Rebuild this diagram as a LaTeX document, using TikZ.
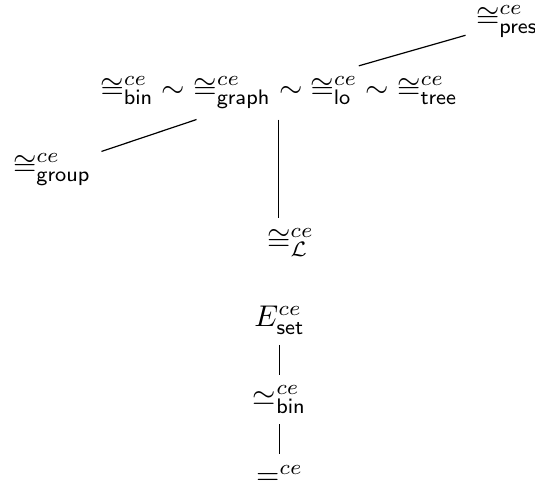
\documentclass[tikz,border=0pt]{standalone}
\usepackage{amsmath,amssymb}
\usepackage{tikz}
\usetikzlibrary{positioning}

\begin{document}
\begin{tikzpicture}[thin,node distance=10pt]
                \tikzset{rel/.style={inner sep=0pt}}
                \useasboundingbox (0,0) rectangle (6.268,5.729);
                \node[anchor=base west] (bin) at (1.054,4.592) {$\cong^{ce}_{\mathsf{bin}}$};
                \node[rel] (simA) [base right=-1pt of bin] {$\sim$};
                \node (graph) [base right=-1pt of simA] {$\cong^{ce}_{\mathsf{graph}}$};
                \node[rel] (simB) [base right=-1pt of graph] {$\sim$};
                \node (lo) [base right=-1pt of simB] {$\cong^{ce}_{\mathsf{lo}}$};
                \node[rel] (simC) [base right=-1pt of lo] {$\sim$};
                \node (tree) [base right=-1pt of simC] {$\cong^{ce}_{\mathsf{tree}}$};
                \node[anchor=base west] (pres) at (5.454,5.42) {$\cong^{ce}_{\mathsf{pres}}$};
                \node[anchor=base west] (group) at (0.029,3.69) {$\cong^{ce}_{\mathsf{group}}$};
                \node[anchor=base west] (L) at (3.005,2.812) {$\cong^{ce}_{\mathcal{L}}$};
                \node[anchor=base] (Eset) at (3.275,1.90) {$E^{ce}_{\mathsf{set}}$};
                \node (simeq) [below=of Eset] {$\simeq^{ce}_{\mathsf{bin}}$};
                \node (eq) [below=of simeq] {$=^{ce}$};
                \path (group.20) edge (graph.217);
                \path (lo.45) edge (pres.198);
                \path ([xshift=-1pt]graph.south east) edge ([xshift=-1pt]graph.south east |- L.north);
                \path (Eset) edge (simeq);
                \path (simeq) edge (eq);
            \end{tikzpicture}
\end{document}
